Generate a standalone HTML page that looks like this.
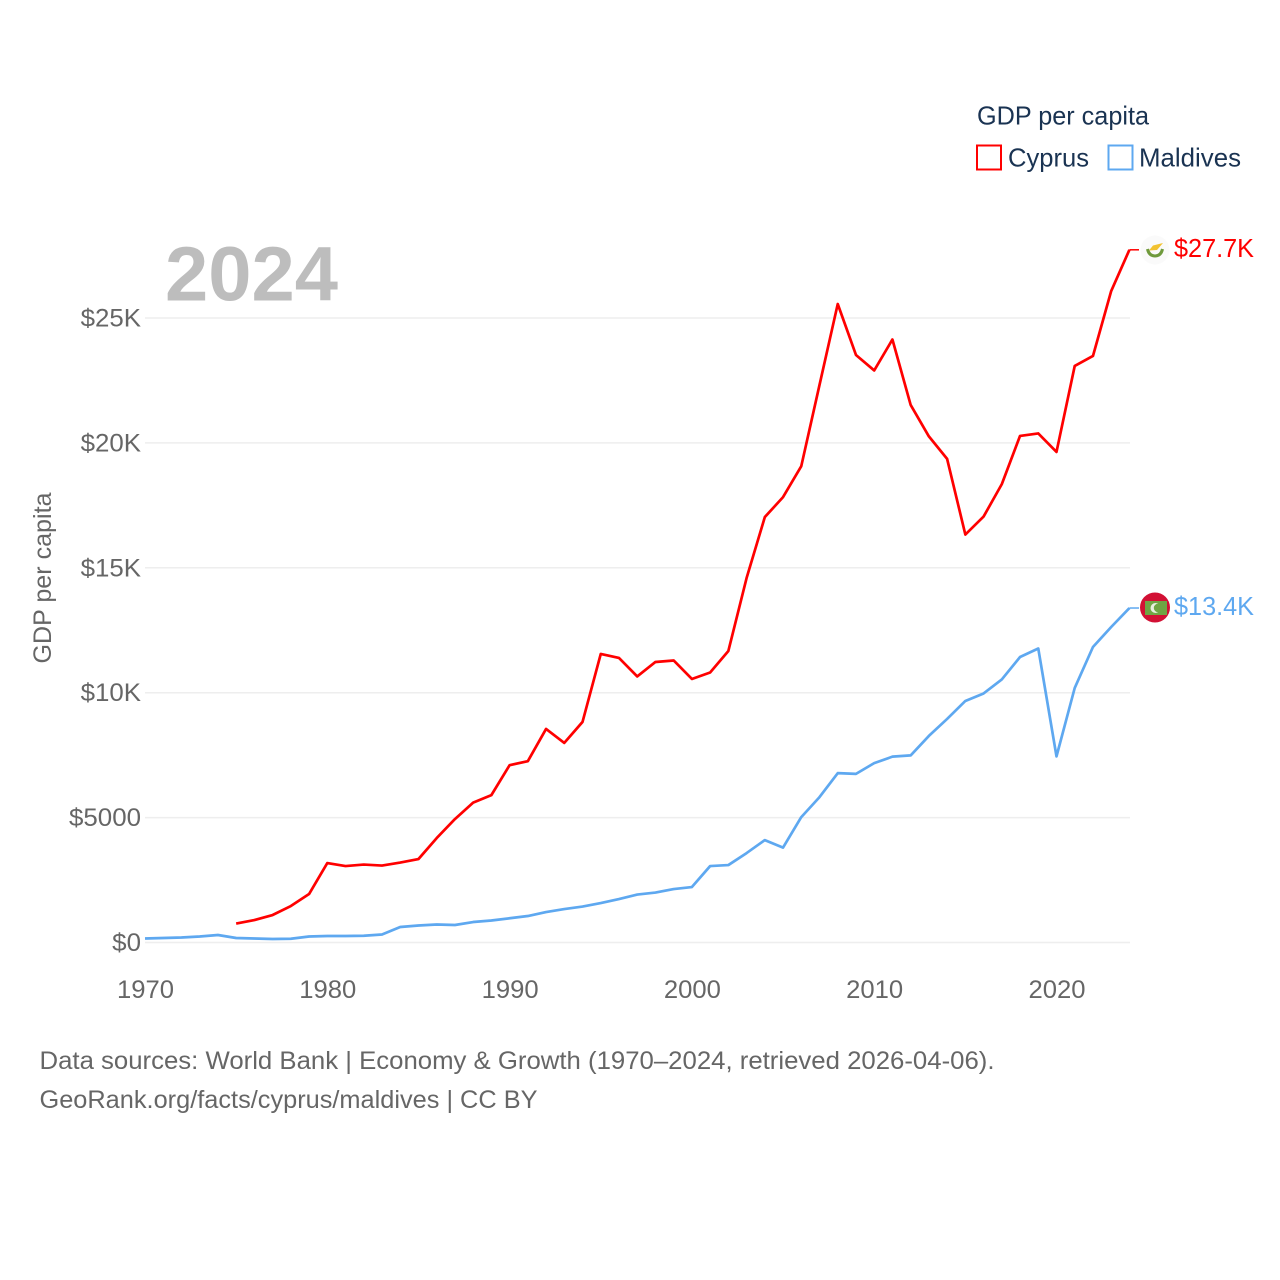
<!DOCTYPE html>
<html lang="en">
<head>
<meta charset="utf-8">
<title>GDP per capita: Cyprus and Maldives</title>
<style>
html,body{margin:0;padding:0;background:#fff;}
svg{display:block;}
text{font-family:"Liberation Sans",sans-serif;}
.t{font-size:25px;fill:#666;}
.lg{font-size:26px;fill:#1a3352;}
</style>
</head>
<body>
<svg id="chart" width="1280" height="1280" viewBox="0 0 1280 1280" xmlns="http://www.w3.org/2000/svg">
<rect x="0" y="0" width="1280" height="1280" fill="#fff"/>
<g id="grid"></g>
<g id="yticks"></g>
<g id="xticks"></g>
<text x="165" y="300.500" font-size="77" font-weight="bold" fill="#bdbdbd" textLength="173" lengthAdjust="spacingAndGlyphs">2024</text>
<text class="t" transform="translate(51,578) rotate(-90)" text-anchor="middle" textLength="171" lengthAdjust="spacingAndGlyphs">GDP per capita</text>
<g id="lines"></g>
<g>
<text class="lg" x="977" y="124.500" textLength="172" lengthAdjust="spacingAndGlyphs">GDP per capita</text>
<rect x="977" y="145.500" width="24" height="24" fill="#fff" stroke="#ff0000" stroke-width="2"/>
<text class="lg" x="1008" y="166.500" textLength="81" lengthAdjust="spacingAndGlyphs">Cyprus</text>
<rect x="1108.500" y="145.500" width="24" height="24" fill="#fff" stroke="#5ea8f0" stroke-width="2"/>
<text class="lg" x="1139" y="166.500" textLength="102" lengthAdjust="spacingAndGlyphs">Maldives</text>
</g>
<g>
<circle cx="1155" cy="250" r="14.500" fill="#fafafa"/>
<path d="M1149 250.500 L1153 245.500 L1163 243 L1157 250 Z" fill="#f2c230"/>
<path d="M1147.500 249 Q1149 256 1155 256 Q1161 256 1162.500 249" fill="none" stroke="#6f9a3c" stroke-width="3"/>
</g>
<g>
<circle cx="1155" cy="607.500" r="15" fill="#d21034"/>
<rect x="1145" y="601" width="22" height="14" fill="#6fa544"/>
<circle cx="1155.500" cy="608" r="5" fill="#e8efe0"/>
<circle cx="1158" cy="608" r="4.200" fill="#6fa544"/>
</g>
<text x="1174" y="257" font-size="26" fill="#ff0000" textLength="80" lengthAdjust="spacingAndGlyphs">$27.7K</text>
<text x="1174" y="615" font-size="26" fill="#5ea8f0" textLength="80" lengthAdjust="spacingAndGlyphs">$13.4K</text>
<text class="t" x="39.500" y="1069" fill="#666" textLength="955" lengthAdjust="spacingAndGlyphs">Data sources: World Bank | Economy &amp; Growth (1970–2024, retrieved 2026-04-06).</text>
<a><text class="t" x="39.500" y="1108" textLength="498" lengthAdjust="spacingAndGlyphs">GeoRank.org/facts/cyprus/maldives | CC BY</text></a>
</svg>
<script>
const cyprusYears = [1975,1976,1977,1978,1979,1980,1981,1982,1983,1984,1985,1986,1987,1988,1989,1990,1991,1992,1993,1994,1995,1996,1997,1998,1999,2000,2001,2002,2003,2004,2005,2006,2007,2008,2009,2010,2011,2012,2013,2014,2015,2016,2017,2018,2019,2020,2021,2022,2023,2024];
const cyprusValues = [760,900,1100,1460,1940,3180,3060,3120,3080,3200,3340,4180,4940,5600,5900,7100,7260,8550,7990,8830,11550,11390,10650,11230,11290,10550,10810,11670,14590,17030,17830,19070,22320,25560,23520,22900,24140,21520,20260,19360,16330,17050,18350,20280,20380,19640,23080,23480,26080,27730];
const maldivesYears = [1970,1971,1972,1973,1974,1975,1976,1977,1978,1979,1980,1981,1982,1983,1984,1985,1986,1987,1988,1989,1990,1991,1992,1993,1994,1995,1996,1997,1998,1999,2000,2001,2002,2003,2004,2005,2006,2007,2008,2009,2010,2011,2012,2013,2014,2015,2016,2017,2018,2019,2020,2021,2022,2023,2024];
const maldivesValues = [160,180,200,240,300,180,160,140,150,240,260,260,270,320,620,680,720,700,820,880,970,1060,1220,1340,1440,1580,1740,1920,2000,2140,2220,3060,3100,3580,4100,3800,5020,5820,6780,6750,7180,7440,7490,8270,8950,9670,9970,10530,11430,11770,7450,10190,11830,12630,13390];
const yTickValues = [0,5000,10000,15000,20000,25000];
const yTickLabels = ["$0","$5000","$10K","$15K","$20K","$25K"];
const xTickValues = [1970,1980,1990,2000,2010,2020];

const NS = "http://www.w3.org/2000/svg";
function xScale(year){ return 145 + (year - 1970) * 18.23; }
function yScale(value){ return 942.5 - value * 0.02498; }

const gridG = document.getElementById("grid");
const yG = document.getElementById("yticks");
const xG = document.getElementById("xticks");
const linesG = document.getElementById("lines");

yTickValues.forEach(function(v, i){
  const line = document.createElementNS(NS, "line");
  
  
  line.setAttribute("x1", 145);
  line.setAttribute("x2", 1130);
  line.setAttribute("y1", yScale(v));
  line.setAttribute("y2", yScale(v));
  line.setAttribute("stroke", "#eeeeee");
  line.setAttribute("stroke-width", 1.5);
  gridG.appendChild(line);
  const label = document.createElementNS(NS, "text");
  
  
  label.setAttribute("class", "t");
  label.setAttribute("x", 141);
  label.setAttribute("y", yScale(v) + 8.5);
  label.setAttribute("text-anchor", "end");
  label.textContent = yTickLabels[i];
  yG.appendChild(label);
  label.setAttribute("textLength", (label.getComputedTextLength() * 1.035).toFixed(1));
  label.setAttribute("lengthAdjust", "spacingAndGlyphs");
});

xTickValues.forEach(function(y){
  const label = document.createElementNS(NS, "text");
  
  
  label.setAttribute("class", "t");
  label.setAttribute("x", xScale(y) + 0.5);
  label.setAttribute("y", 998);
  label.setAttribute("text-anchor", "middle");
  label.setAttribute("textLength", 57);
  label.setAttribute("lengthAdjust", "spacingAndGlyphs");
  label.textContent = String(y);
  xG.appendChild(label);
});

function pathFor(years, values){
  let d = "";
  years.forEach(function(y, i){
    d += (i ? "L" : "M") + xScale(y).toFixed(2) + " " + yScale(values[i]).toFixed(2) + " ";
  });
  return d;
}

const cyprusPath = document.createElementNS(NS, "path");


cyprusPath.setAttribute("d", pathFor(cyprusYears, cyprusValues));
cyprusPath.setAttribute("fill", "none");
cyprusPath.setAttribute("stroke", "#ff0000");
cyprusPath.setAttribute("stroke-width", 2.7);
cyprusPath.setAttribute("stroke-linejoin", "round");
linesG.appendChild(cyprusPath);

const maldivesPath = document.createElementNS(NS, "path");


maldivesPath.setAttribute("d", pathFor(maldivesYears, maldivesValues));
maldivesPath.setAttribute("fill", "none");
maldivesPath.setAttribute("stroke", "#5ea8f0");
maldivesPath.setAttribute("stroke-width", 2.7);
maldivesPath.setAttribute("stroke-linejoin", "round");
linesG.appendChild(maldivesPath);

function connector(values, color, name){
  const last = yScale(values[values.length - 1]);
  const c = document.createElementNS(NS, "line");
  
  
  c.setAttribute("x1", xScale(2024));
  c.setAttribute("x2", 1139);
  c.setAttribute("y1", last);
  c.setAttribute("y2", last);
  c.setAttribute("stroke", color);
  c.setAttribute("stroke-width", 1.5);
  linesG.appendChild(c);
}
connector(cyprusValues, "#ff0000", "connector-cyprus");
connector(maldivesValues, "#5ea8f0", "connector-maldives");
</script>
</body>
</html>
